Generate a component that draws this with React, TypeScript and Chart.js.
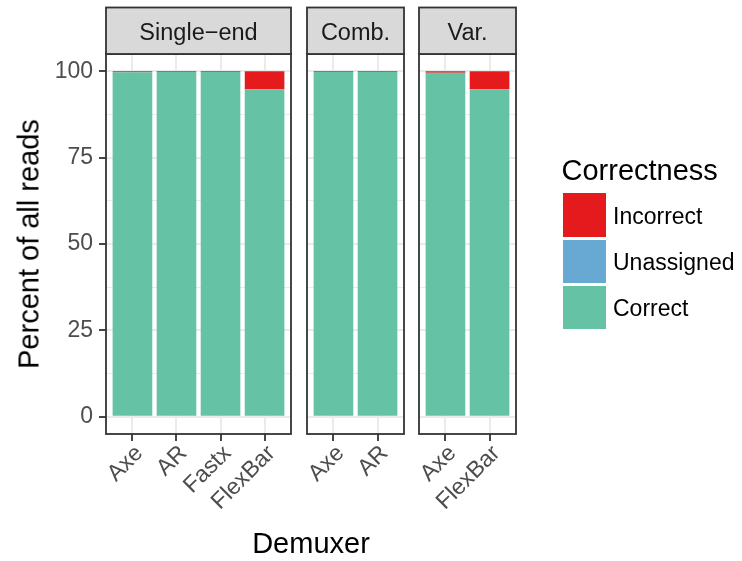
import React, { useEffect, useRef } from 'react';
import { Chart, registerables } from 'chart.js';
Chart.register(...registerables);

const W = 742;
const H = 561;
const FONT = '"Liberation Sans", Arial, Helvetica, sans-serif';

// ---- data ----
const singleCategories = ['Axe', 'AR', 'Fastx', 'FlexBar'];
const singleCorrect = [99.7, 99.8, 99.8, 94.8];
const singleUnassigned = [0, 0, 0, 0];
const singleIncorrect = [0.3, 0.2, 0.2, 5.2];

const combCategories = ['Axe', 'AR'];
const combCorrect = [99.8, 99.8];
const combUnassigned = [0, 0];
const combIncorrect = [0.2, 0.2];

const varCategories = ['Axe', 'FlexBar'];
const varCorrect = [99.6, 94.8];
const varUnassigned = [0, 0];
const varIncorrect = [0.4, 5.2];

const yMajorTicks = [0, 25, 50, 75, 100];
const yMinorTicks = [12.5, 37.5, 62.5, 87.5];

const seriesNames = ['Correct', 'Unassigned', 'Incorrect'];
const seriesColors = ['#66C2A5', '#67A9D3', '#E41A1C'];

const facetPlugin = {
  id: 'facet',
  afterDatasetsDraw(chart: any, _args: any, opts: any) {
    const { ctx, chartArea: a } = chart;
    ctx.save();
    ctx.strokeStyle = '#333333';
    ctx.lineWidth = 1.8;
    ctx.strokeRect(a.left, a.top, a.right - a.left, a.bottom - a.top);
    const top = opts.stripTop;
    ctx.fillStyle = '#D9D9D9';
    ctx.fillRect(a.left, top, a.right - a.left, a.top - top);
    ctx.strokeRect(a.left, top, a.right - a.left, a.top - top);
    ctx.fillStyle = '#1A1A1A';
    ctx.font = `23.5px ${FONT}`;
    ctx.textAlign = 'center';
    ctx.textBaseline = 'alphabetic';
    ctx.fillText(opts.label, (a.left + a.right) / 2, opts.textBaseline);
    ctx.restore();
  },
};

type PanelProps = {
  label: string;
  categories: string[];
  correct: number[];
  unassigned: number[];
  incorrect: number[];
  left: number;
  right: number;
  showY: boolean;
};

const PANEL_TOP = 54;
const PANEL_BOTTOM = 434;

function Panel(p: PanelProps) {
  const ref = useRef<HTMLCanvasElement>(null);
  useEffect(() => {
    if (!ref.current) return;
    const values = [p.correct, p.unassigned, p.incorrect];
    const chart = new Chart(ref.current, {
      type: 'bar',
      data: {
        datasets: seriesNames.map((name, k) => ({
          label: name,
          data: values[k].map((v, i) => ({ x: i, y: v })),
          backgroundColor: seriesColors[k],
          borderWidth: 0,
          barPercentage: 0.9,
          categoryPercentage: 1.0,
        })),
      },
      options: {
        responsive: false,
        animation: false,
        devicePixelRatio: 1,
        events: [],
        layout: {
          padding: { left: p.showY ? 0 : p.left, right: W - p.right, top: PANEL_TOP, bottom: 0 },
        },
        plugins: {
          legend: { display: false },
          tooltip: { enabled: false },
          facet: { label: p.label, stripTop: 7.5, textBaseline: 39.5 },
        } as any,
        scales: {
          x: {
            type: 'linear',
            stacked: true,
            offset: false,
            min: -0.6,
            max: p.categories.length - 0.4,
            afterBuildTicks: (s: any) => {
              s.ticks = p.categories.map((_, i) => ({ value: i }));
            },
            afterFit: (s: any) => {
              s.height = H - PANEL_BOTTOM;
            },
            grid: {
              offset: false,
              color: '#EBEBEB',
              lineWidth: 2,
              tickColor: '#333333',
              tickWidth: 1.8,
              tickLength: 7,
              drawTicks: true,
            },
            border: { display: false },
            ticks: {
              autoSkip: false,
              maxRotation: 45,
              minRotation: 45,
              padding: -1,
              labelOffset: 7,
              color: '#4D4D4D',
              font: { size: 23, family: FONT },
              callback: (v: any) => p.categories[Math.round(Number(v))] ?? '',
            },
          },
          y: {
            type: 'linear',
            stacked: true,
            min: -5,
            max: 105,
            afterBuildTicks: (s: any) => {
              s.ticks = [...yMajorTicks, ...yMinorTicks]
                .sort((a, b) => a - b)
                .map((v) => ({ value: v }));
            },
            afterFit: (s: any) => {
              s.width = p.showY ? p.left : 0;
            },
            grid: {
              color: '#EBEBEB',
              lineWidth: (c: any) => (c.tick && yMajorTicks.includes(c.tick.value) ? 2 : 1),
              tickColor: (c: any) =>
                c.tick && yMajorTicks.includes(c.tick.value) ? '#333333' : 'rgba(0,0,0,0)',
              tickWidth: 1.8,
              tickLength: 7,
              drawTicks: p.showY,
            },
            border: { display: false },
            ticks: {
              display: p.showY,
              padding: 6,
              color: '#4D4D4D',
              font: { size: 23, family: FONT },
              callback: (v: any) => (yMajorTicks.includes(Number(v)) ? String(v) : ''),
            },
          },
        },
      } as any,
      plugins: [facetPlugin],
    });
    return () => chart.destroy();
  }, []);
  return (
    <canvas
      ref={ref}
      width={W}
      height={H}
      style={{ position: 'absolute', left: 0, top: 0, width: W, height: H }}
    />
  );
}

const textBase: React.CSSProperties = {
  position: 'absolute',
  fontFamily: FONT,
  whiteSpace: 'nowrap',
  lineHeight: 1,
  color: '#000000',
};

export default function App() {
  const legendTop = 193.3;
  const legendStep = 46.3;
  const legendOrder = [2, 1, 0];
  return (
    <div style={{ position: 'absolute', left: 0, top: 0, width: W, height: H, background: '#FFFFFF' }}>
      <Panel
        label={'Single\u2212end'}
        categories={singleCategories}
        correct={singleCorrect}
        unassigned={singleUnassigned}
        incorrect={singleIncorrect}
        left={106}
        right={291}
        showY={true}
      />
      <Panel
        label="Comb."
        categories={combCategories}
        correct={combCorrect}
        unassigned={combUnassigned}
        incorrect={combIncorrect}
        left={307}
        right={404}
        showY={false}
      />
      <Panel
        label="Var."
        categories={varCategories}
        correct={varCorrect}
        unassigned={varUnassigned}
        incorrect={varIncorrect}
        left={419}
        right={516}
        showY={false}
      />
      <div
        style={{
          ...textBase,
          fontSize: 29,
          left: 28.5,
          top: 244,
          transform: 'translate(-50%, -50%) rotate(-90deg)',
        }}
      >
        Percent of all reads
      </div>
      <div style={{ ...textBase, fontSize: 29, left: 311, top: 528.5, transform: 'translateX(-50%)' }}>
        Demuxer
      </div>
      <div style={{ ...textBase, fontSize: 29, left: 561.5, top: 156.2 }}>Correctness</div>
      {legendOrder.map((k, j) => (
        <React.Fragment key={k}>
          <div
            style={{
              position: 'absolute',
              left: 562.7,
              top: legendTop + j * legendStep,
              width: 43.3,
              height: 43.3,
              background: seriesColors[k],
            }}
          />
          <div style={{ ...textBase, fontSize: 23, left: 613, top: 204.5 + j * legendStep }}>
            {seriesNames[k]}
          </div>
        </React.Fragment>
      ))}
    </div>
  );
}
